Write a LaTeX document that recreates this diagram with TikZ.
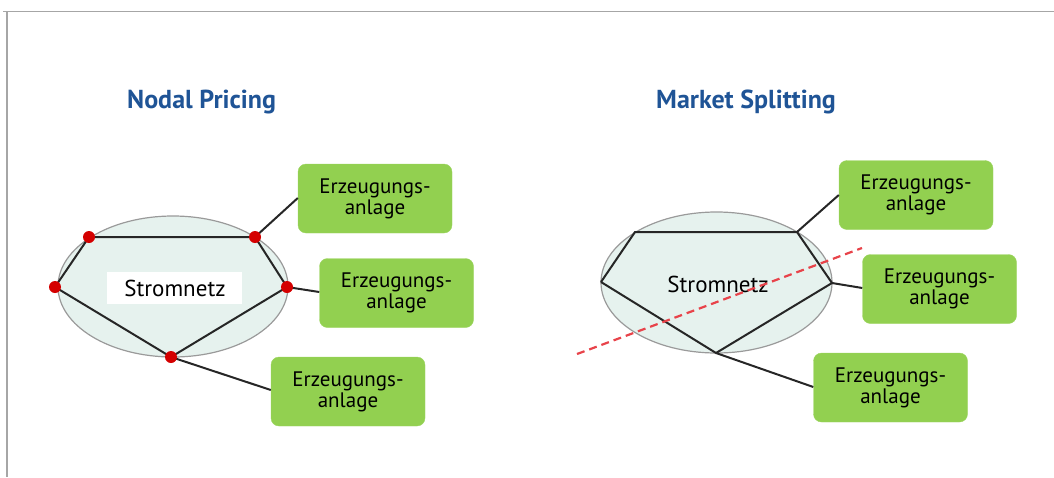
\documentclass[tikz,border=0pt]{standalone}
\usepackage{fontspec}
\setmainfont{PT Sans}
\usetikzlibrary{shapes.geometric}
\definecolor{boxgreen}{HTML}{92D050}
\definecolor{ellfill}{HTML}{E6F2EE}
\definecolor{ellline}{HTML}{9A9A9A}
\definecolor{titleblue}{HTML}{1F5496}
\definecolor{dotred}{HTML}{D40000}
\definecolor{cutred}{HTML}{E8434A}
\definecolor{frame}{HTML}{A6A6A6}
\tikzset{
  gen/.style={draw=boxgreen!90!white, fill=boxgreen, rounded corners=8pt, minimum width=154pt, minimum height=69pt, align=center, font=\fontsize{21}{21}\selectfont, inner sep=0pt},
  net/.style={draw=ellline, line width=1.2pt, fill=ellfill, ellipse, inner sep=0pt},
  wire/.style={draw=black!85, line width=2pt},
  bus/.style={circle, fill=dotred, minimum size=12pt, inner sep=0pt},
  title/.style={text=titleblue, font=\fontsize{26}{26}\bfseries\selectfont, anchor=base west, inner sep=0pt},
  cut/.style={draw=cutred, line width=2.2pt, dash pattern=on 8pt off 5pt},
  lbl/.style={font=\fontsize{23}{23}\selectfont, inner sep=0pt}
}
\begin{document}
\begin{tikzpicture}[x=1pt,y=-1pt]
\useasboundingbox (0,0) rectangle (1054,477);
% frame
\draw[frame, line width=1.5pt] (3,11.5) -- (1054,11.5);
\draw[frame, line width=1.5pt] (7,11.5) -- (7,477);
% titles
\node[title] (t1) at (127,108) {Nodal Pricing};
\node[title] (t2) at (656,108) {Market Splitting};

% ---------- left: Nodal Pricing ----------
\node[net, minimum width=230pt, minimum height=141pt] (e1) at (173,286.5) {};
\node[fill=white, minimum width=135pt, minimum height=32pt, inner sep=0pt] (lbl1) at (174.5,288) {};
\node[lbl] (s1) at (175,288) {Stromnetz};
\node[gen] (g1) at (375,198.5) {Erzeugungs-\\anlage};
\node[gen] (g2) at (396.5,293) {Erzeugungs-\\anlage};
\node[gen] (g3) at (348,391.5) {Erzeugungs-\\anlage};
\coordinate (a) at (89,237);
\coordinate (b) at (255,237);
\coordinate (c) at (55,287);
\coordinate (d) at (287,287);
\coordinate (f) at (171,357);
\draw[wire] (c) -- (a) -- (b) -- (d) -- (f) -- (c);
\draw[wire] (b) -- (g1.west |- 0,198);
\draw[wire] (d) -- (g2.west |- 0,292);
\draw[wire] (f) -- (g3.west |- 0,390);
\node[bus] (na) at (a) {};
\node[bus] (nb) at (b) {};
\node[bus] (nc) at (c) {};
\node[bus] (nd) at (d) {};
\node[bus] (nf) at (f) {};

% ---------- right: Market Splitting ----------
\node[net, minimum width=231pt, minimum height=141pt] (e2) at (716.5,282.5) {};
\node[gen] (h1) at (916,195) {Erzeugungs-\\anlage};
\node[gen] (h2) at (939.5,289) {Erzeugungs-\\anlage};
\node[gen] (h3) at (890.5,387.5) {Erzeugungs-\\anlage};
\coordinate (p) at (635,232);
\coordinate (q) at (797,232);
\coordinate (r) at (601,282);
\coordinate (s) at (832,283);
\coordinate (u) at (716,353);
\draw[wire] (r) -- (p) -- (q) -- (s) -- (u) -- (r);
\draw[wire] (q) -- (h1.west |- 0,195);
\draw[wire] (s) -- (h2.west |- 0,288);
\draw[wire] (u) -- (h3.west |- 0,387);
\node[lbl] (s2) at (718,284) {Stromnetz};
\coordinate (cutA) at (577,354);
\coordinate (cutB) at (862,248);
\draw[cut] (cutA) -- (cutB);
\end{tikzpicture}
\end{document}
